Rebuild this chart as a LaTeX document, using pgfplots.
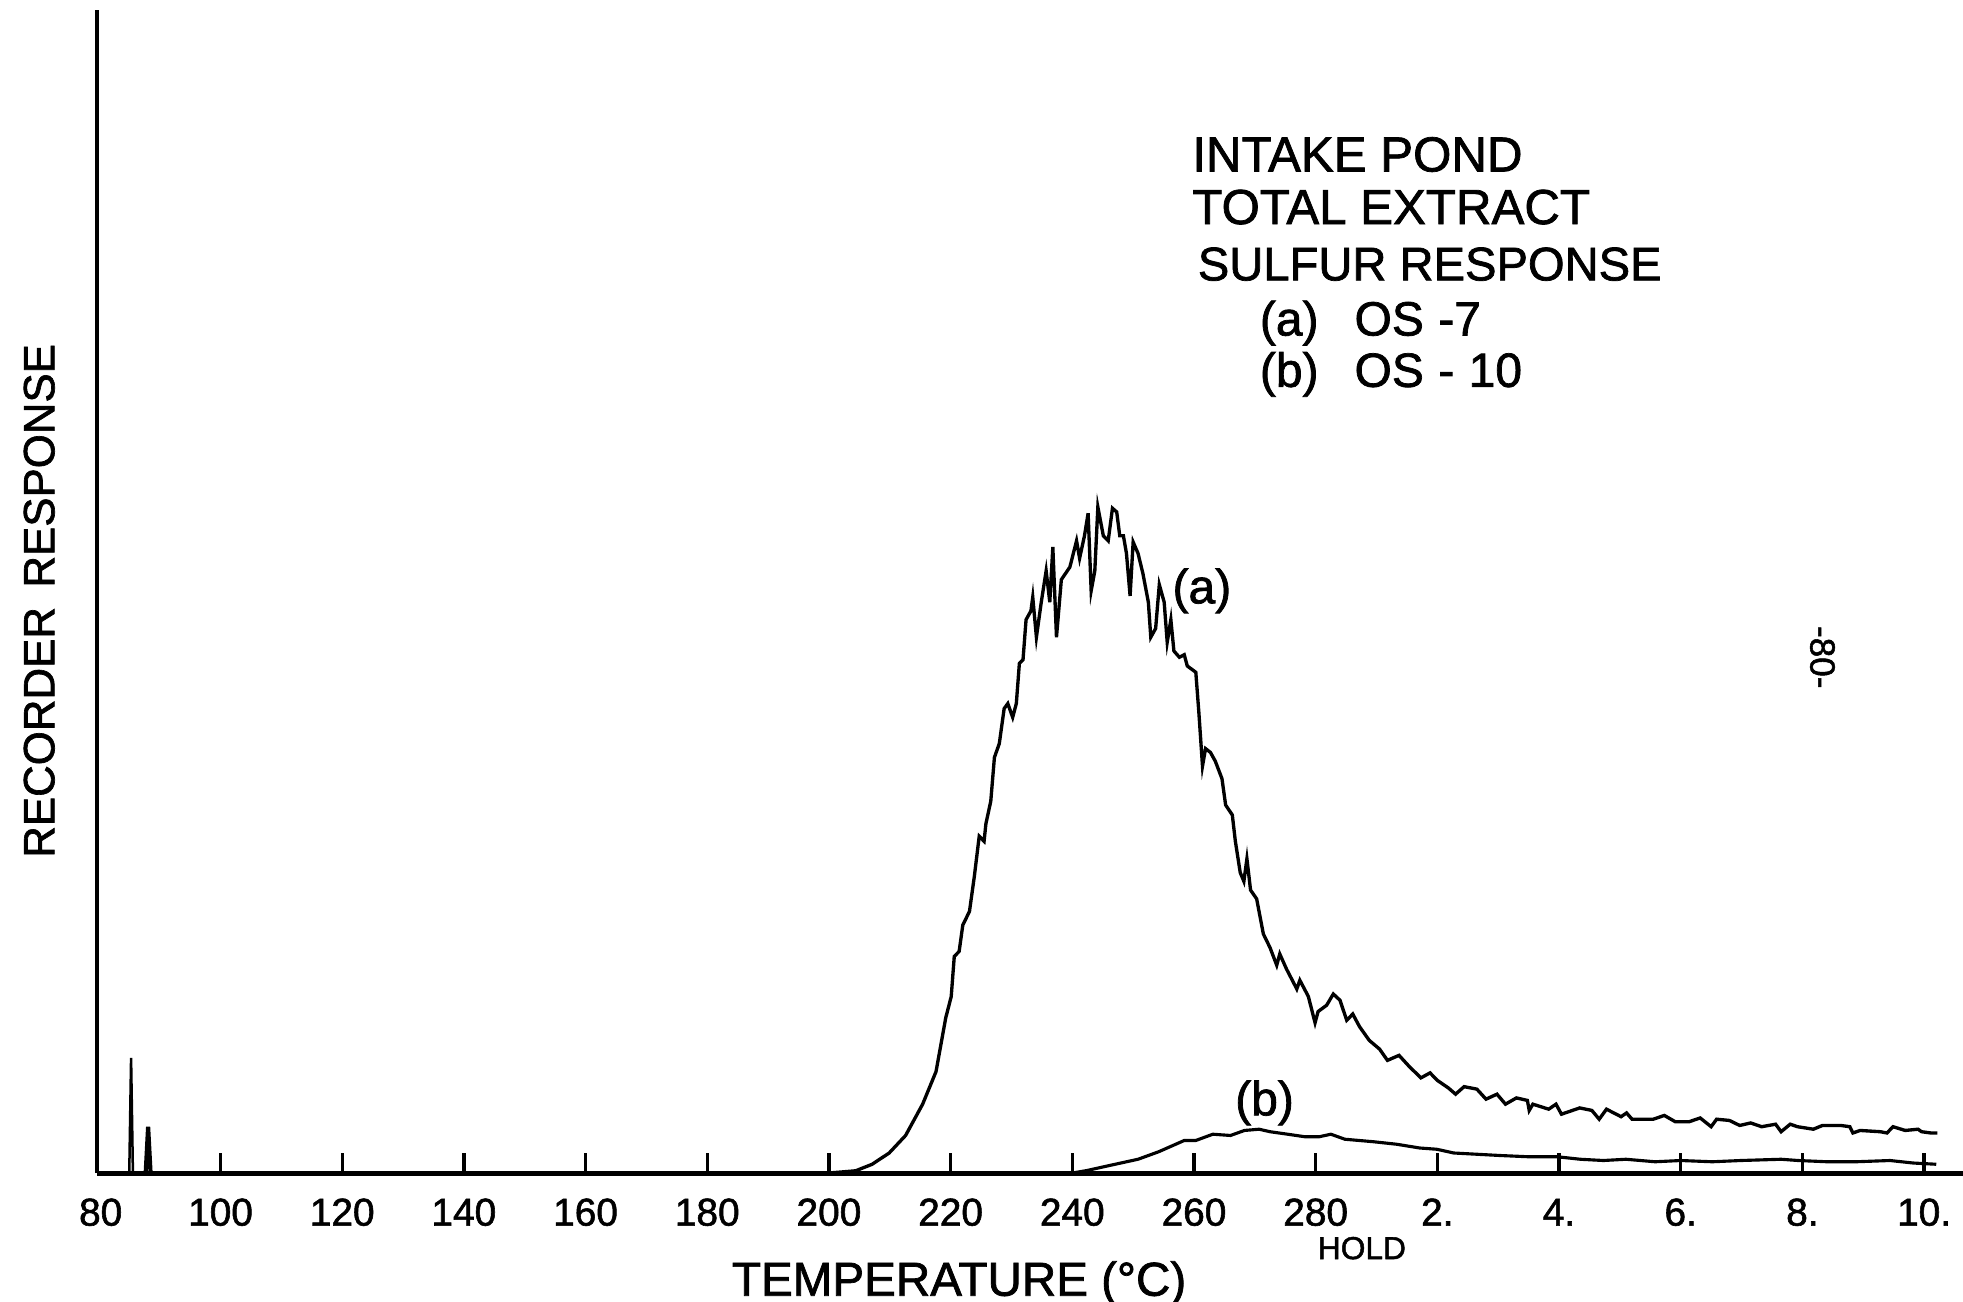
\documentclass[border=0pt]{standalone}
\usepackage{pgfplots}
\pgfplotsset{compat=1.18}
\usepackage{fontspec}
\setmainfont[FakeBold=1.5]{Liberation Sans}

\begin{document}
\begin{tikzpicture}
\begin{axis}[
  at={(0,0)}, anchor=south west,
  scale only axis, width=447.15pt, height=278.7pt,
  xmin=79.7, xmax=386.4, ymin=0, ymax=929,
  axis x line*=bottom, axis y line*=left,
  x axis line style={line width=1.2pt,-},
  y axis line style={line width=0.85pt,-},
  xtick={100,120,...,380},
  xticklabels={100,120,140,160,180,200,220,240,260,280,2.,4.,6.,8.,10.},
  ytick=\empty,
  tick align=inside,
  major tick length=4.8pt,
  xtick style={line width=0.8pt, black},
  /pgf/number format/assume math mode=true,
  xticklabel style={font=\fontsize{9.3}{9}\selectfont, anchor=base, inner sep=0pt, yshift=-12.6pt},
  clip=false,
]
% spikes
\addplot[black, line width=0.6pt] coordinates {(85.0,0) (85.3,92) (85.6,0)};
\addplot[black, line width=1.0pt] coordinates {(87.7,0) (88.1,37) (88.5,0)};
% curve (a) OS-7
\addplot[black, line width=0.8pt] coordinates {
(79.7,0) (200,0) (204.4,1.8) (207.1,7) (209.9,16) (212.6,30) (215.4,55) (217.6,81) (219.2,124) (220.1,141) (220.6,173) (221.4,177) (222,198) (223.1,209) (223.9,237) (224.7,269) (225.5,265) (225.8,279) (226.6,297) (227.2,332) (228,343) (228.8,371) (229.4,375) (230.2,364) (230.8,375) (231.3,407) (231.9,410) (232.4,442) (233.2,449) (233.5,460) (234.1,428) (234.9,456) (235.7,481) (236.3,456) (236.8,500) (237.4,428) (238.2,474) (239.6,484) (240.7,505) (241.2,491) (242,509) (242.6,527) (243.1,465) (243.7,481) (244.2,532) (245.1,509) (245.9,505) (246.6,531) (247.3,528) (247.8,509) (248.4,509) (248.9,495) (249.5,461) (250,504) (250.8,495) (251.6,479) (252.5,456) (252.9,428) (253.7,435) (254.3,470) (255.1,456) (255.6,424) (256.2,442) (256.7,417) (257.6,412) (258.4,414) (258.9,405) (260.3,400) (260.8,368) (261.4,325) (261.9,339) (262.7,336) (263.5,329) (264.6,315) (265.2,294) (266.3,286) (266.8,265) (267.6,240) (268.2,233) (268.7,251) (269.3,226) (270.3,219) (271.4,191) (272.5,180) (273.6,166) (274.1,175) (275.2,163) (276.9,147) (277.4,154) (278.8,141) (279.9,120) (280.4,129) (281.8,134) (282.9,143) (284,138) (285.1,122) (286.1,127) (287.2,117) (288.8,106) (290.5,99) (291.8,90) (293.7,94) (295.4,85) (297.3,76) (298.8,80) (300,74) (301.8,68) (303,63) (304.4,69) (306.5,67) (308,59) (309.8,63) (311.2,55) (313,60) (314.8,58) (315.1,50) (315.7,55) (318.3,51) (319.5,55) (320.4,47) (323.4,52) (325.4,50) (326.6,43) (327.8,51) (330.2,45) (331.1,48) (332,43) (335.5,43) (337.3,46) (339.1,41) (341.4,41) (343.2,44) (345,37) (345.9,43) (348,42) (349.7,38) (351.5,40) (353.3,37) (355.6,39) (356.5,33) (358,39) (359.2,37) (361.8,35) (363.3,38) (366.3,38) (367.8,37) (368.3,32) (369.5,34) (372.8,33) (373.9,32) (374.9,37) (376.9,34) (379,35) (379.6,33) (381.1,32) (382.2,32)
};
% curve (b) OS-10
\addplot[black, line width=0.75pt] coordinates {
(79.7,0) (240,0) (242.4,2) (246.1,6) (250.8,11) (254.2,17) (258.4,26) (260.3,26) (263.1,31) (266,30) (268.3,34) (270.7,35) (272.5,33) (275.4,31) (278.2,29) (280.6,29) (282.5,31) (284.8,27) (289.5,25) (293.3,23) (297.1,20) (299.9,19) (302.7,16) (306.5,15) (310.3,14) (315,13) (319.7,13) (323.5,11) (327.3,10) (331,11) (335.8,9) (340,10) (345.2,9) (349.9,10) (356.5,11) (359.3,10) (364.1,9) (368.8,9) (374.4,10) (378.2,8) (382,7)
};
% annotations
\node[anchor=base, inner sep=0pt, font=\fontsize{9.3}{9}\selectfont] at (axis cs:80.3,-42) {80};
\node[font=\fontsize{11.5}{13}\selectfont] at (axis cs:261.3,465) {(a)};
\node[font=\fontsize{11.5}{13}\selectfont] at (axis cs:271.6,56) {(b)};
\node[anchor=base west, inner sep=0pt, font=\fontsize{11.8}{13}\selectfont] at (axis cs:259.6,800) {INTAKE POND};
\node[anchor=base west, inner sep=0pt, font=\fontsize{11.8}{13}\selectfont] at (axis cs:259.6,758) {TOTAL EXTRACT};
\node[anchor=base west, inner sep=0pt, font=\fontsize{11.3}{13}\selectfont] at (axis cs:260.5,713) {SULFUR RESPONSE};
\node[anchor=base west, inner sep=0pt, font=\fontsize{11.5}{13}\selectfont] at (axis cs:270.7,669) {(a)\hspace{0.75em}OS\hspace{0.3em}-7};
\node[anchor=base west, inner sep=0pt, font=\fontsize{11.5}{13}\selectfont] at (axis cs:270.7,628) {(b)\hspace{0.75em}OS\hspace{0.3em}-\hspace{0.3em}10};
\node[font=\fontsize{7.6}{8}\selectfont] at (axis cs:287.6,-60) {HOLD};
\node[anchor=base, inner sep=0pt, font=\fontsize{11.4}{12}\selectfont] at (axis cs:221.4,-98) {TEMPERATURE (°C)};
\node[rotate=90, font=\fontsize{10.5}{12}\selectfont] at (axis cs:70.2,457) {RECORDER\, RESPONSE};
\node[rotate=-90, font=\fontsize{8.4}{9}\selectfont] at (axis cs:363.3,412) {-80-};
\end{axis}
\pgfresetboundingbox
\path[use as bounding box] (-23.25pt,-30.9pt) rectangle (447.15pt,281.1pt);
\end{tikzpicture}
\end{document}
